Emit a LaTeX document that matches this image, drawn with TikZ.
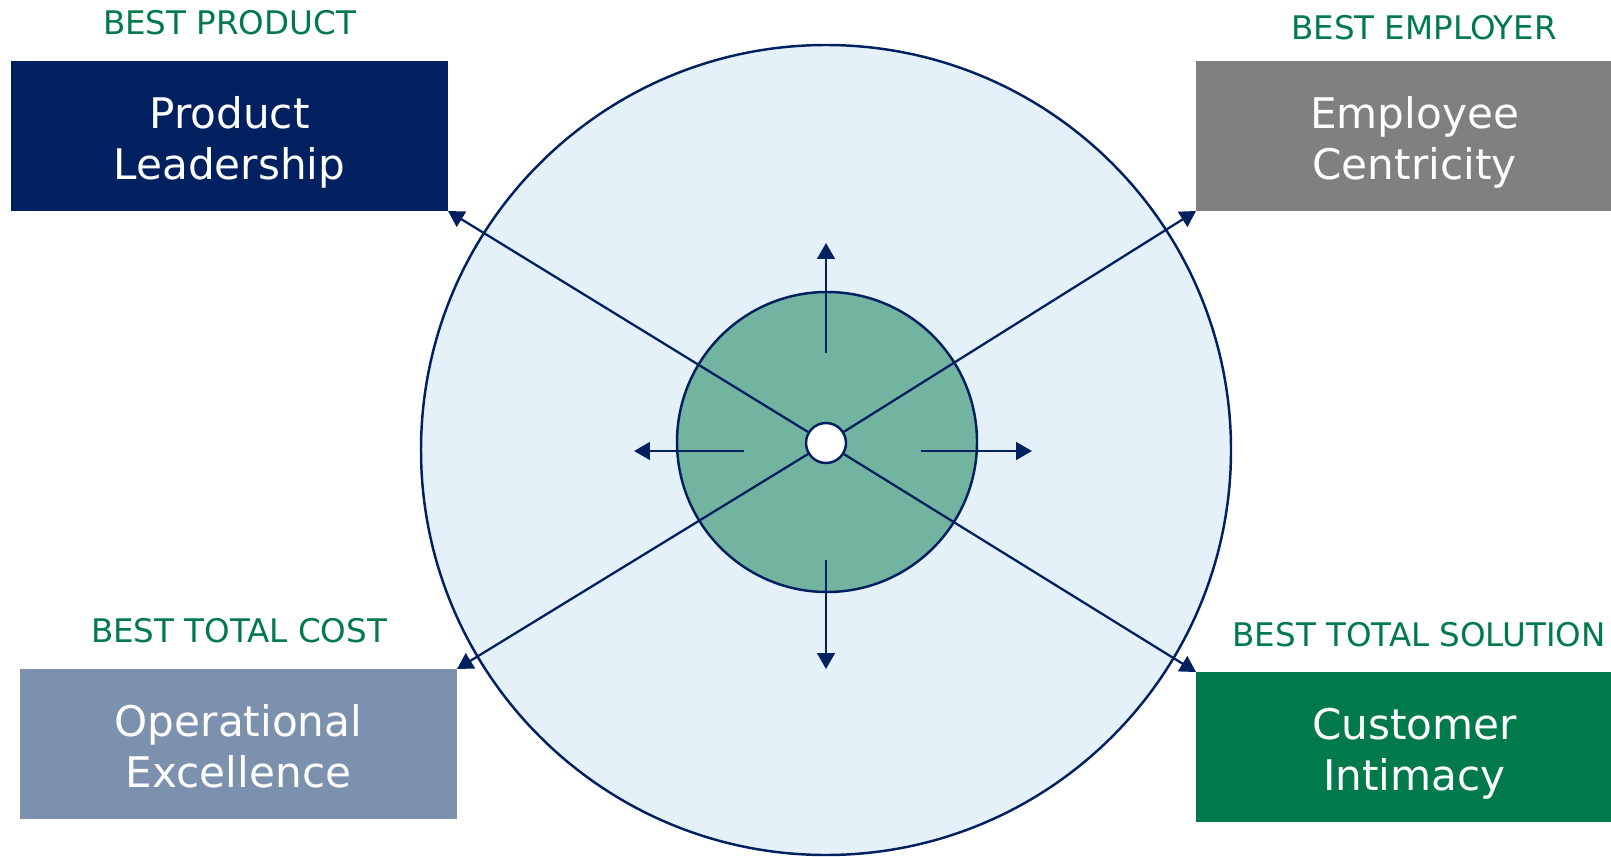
\documentclass[tikz,border=0pt]{standalone}
\usepackage{fontspec}
\setmainfont{DejaVu Sans}
\usepackage{tikz}
\usetikzlibrary{arrows.meta,positioning}

\definecolor{navy}{HTML}{002060}
\definecolor{bestgreen}{HTML}{007A4B}
\definecolor{stonegray}{HTML}{808080}
\definecolor{steelblue}{HTML}{7B91AD}
\definecolor{paleblue}{HTML}{E4F1F8}
\definecolor{coregreen}{HTML}{73B4A1}

\begin{document}
\begin{tikzpicture}[
    box/.style={minimum width=8.74cm, minimum height=3cm, inner sep=0pt, outer sep=0pt, align=center, text=white, font=\fontsize{24}{29}\selectfont, text height=55pt, text depth=6pt},
    tag/.style={text=bestgreen, inner sep=0pt, font=\fontsize{18.5}{21}\selectfont},
    ring/.style={circle, draw=navy, line width=1.4pt, inner sep=0pt},
    arr/.style={-{Triangle[length=9pt, width=10pt]}, draw=navy, line width=1.3pt}
]
\useasboundingbox (0,0) rectangle (32.22,-17.12);
\clip (0,0) rectangle (32.22,-17.12);

% circles
\node[ring, fill=paleblue, minimum size=16.2cm] (outer) at (16.52,-9.0) {};
\node[ring, fill=coregreen, minimum size=6cm] (inner) at (16.54,-8.84) {};

% the four strategies
\node[box, fill=navy] (pl) at (4.59,-2.72) {Product\\Leadership};
\node[box, fill=stonegray] (ec) at (28.29,-2.72) {Employee\\Centricity};
\node[box, fill=steelblue] (oe) at (4.77,-14.88) {Operational\\Excellence};
\node[box, fill=bestgreen] (ci) at (28.29,-14.94) {Customer\\Intimacy};

\node[tag] (tpl) at (4.59,-0.46) {BEST PRODUCT};
\node[tag] (tec) at (28.48,-0.55) {BEST EMPLOYER};
\node[tag] (toe) at (4.78,-12.62) {BEST TOTAL COST};
\node[tag] (tci) at (28.38,-12.69) {BEST TOTAL SOLUTION};

% growth arrows
\coordinate (up0) at (16.52,-7.06);
\coordinate (up1) at (16.52,-4.86);
\coordinate (dn0) at (16.52,-11.2);
\coordinate (dn1) at (16.52,-13.38);
\coordinate (lt0) at (14.88,-9.02);
\coordinate (lt1) at (12.68,-9.02);
\coordinate (rt0) at (18.42,-9.02);
\coordinate (rt1) at (20.64,-9.02);

\draw[arr] (up0) -- (up1);
\draw[arr] (dn0) -- (dn1);
\draw[arr] (lt0) -- (lt1);
\draw[arr] (rt0) -- (rt1);

\node[ring, fill=white, minimum size=0.8cm] (hub) at (16.52,-8.86) {};

\draw[arr] (hub) -- (pl.south east);
\draw[arr] (hub) -- (ec.south west);
\draw[arr] (hub) -- (oe.north east);
\draw[arr] (hub) -- (ci.north west);
\end{tikzpicture}
\end{document}
